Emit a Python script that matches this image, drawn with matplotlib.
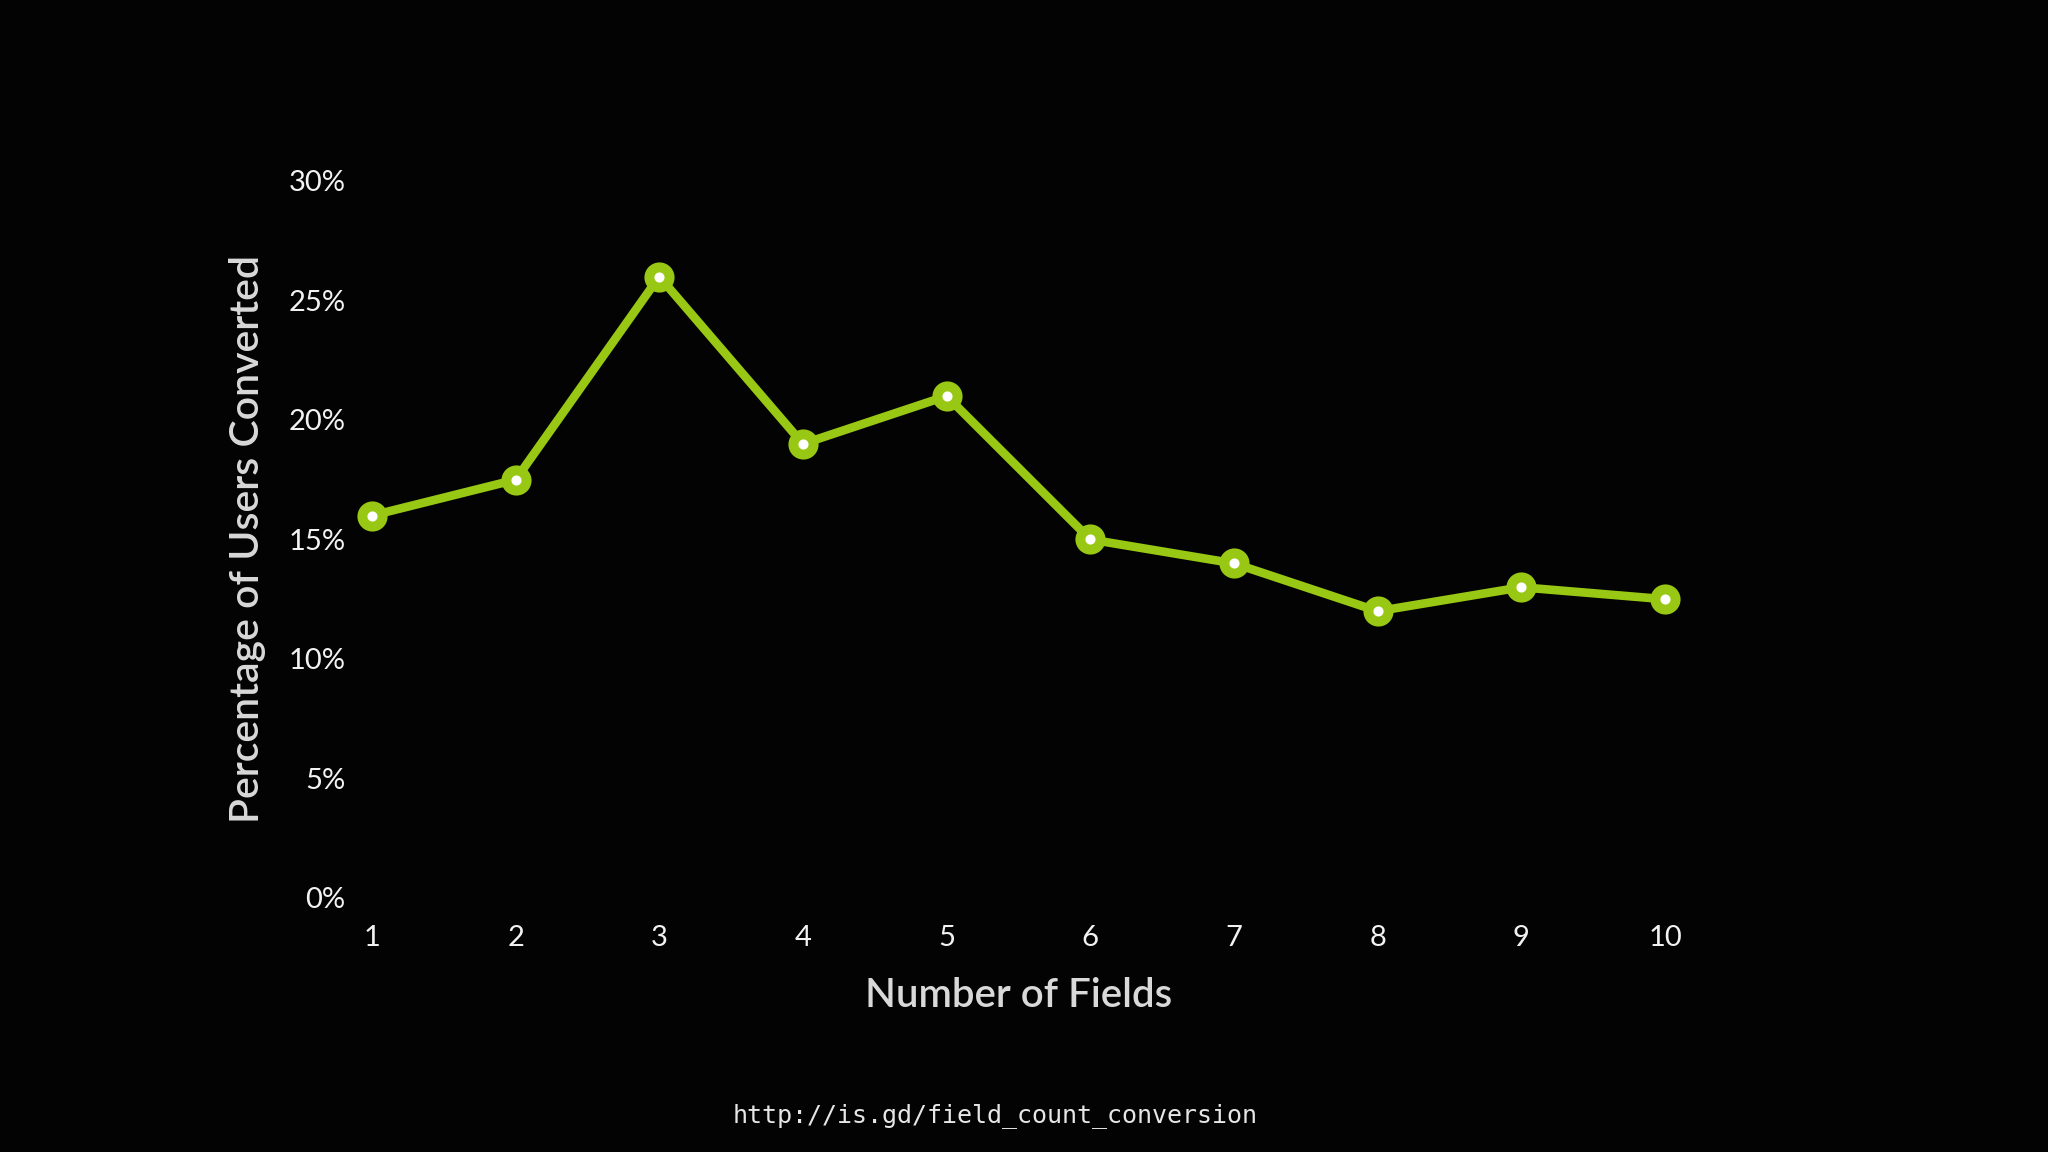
import matplotlib
matplotlib.use("Agg")
import matplotlib.pyplot as plt
from matplotlib.ticker import FuncFormatter

# Conversion rate by number of form fields
fields = [1, 2, 3, 4, 5, 6, 7, 8, 9, 10]
conversion = [16.0, 17.5, 26.0, 19.0, 21.0, 15.0, 14.0, 12.0, 13.0, 12.5]
yticks = [0, 5, 10, 15, 20, 25, 30]

green = '#98c813'
bg = '#030303'

plt.rcParams['font.family'] = ['Lato', 'DejaVu Sans']

fig = plt.figure(figsize=(20.48, 11.52), dpi=100, facecolor=bg)
ax = fig.add_axes([0.1816, 0.2205, 0.6314, 0.6224], facecolor=bg)

ax.plot(fields, conversion, color=green, linewidth=6.2, marker='o',
        markersize=14.5, markerfacecolor='white', markeredgecolor=green,
        markeredgewidth=7.2, clip_on=False, zorder=3)

ax.set_xlim(1, 10)
ax.set_ylim(0, 30)
ax.set_xticks(fields)
ax.set_yticks(yticks)
ax.yaxis.set_major_formatter(FuncFormatter(lambda v, p: f'{int(v)}%'))

for s in ax.spines.values():
    s.set_visible(False)
ax.tick_params(length=0, labelsize=21, colors='#f2f2f2')
ax.tick_params(axis='x', pad=19.5)
ax.tick_params(axis='y', pad=19)

ax.set_xlabel('Number of Fields', fontsize=29, color='#d9d9d9',
              fontweight='semibold', labelpad=19)
ax.set_ylabel('Percentage of Users Converted', fontsize=29.5, color='#d9d9d9',
              fontweight='semibold', labelpad=16)

fig.text(0.486, 0.032, 'http://is.gd/field_count_conversion', ha='center',
         va='center', fontsize=18, color='#e6e6e6', family='DejaVu Sans Mono')

fig.savefig('out.png', dpi=100, facecolor=bg)
